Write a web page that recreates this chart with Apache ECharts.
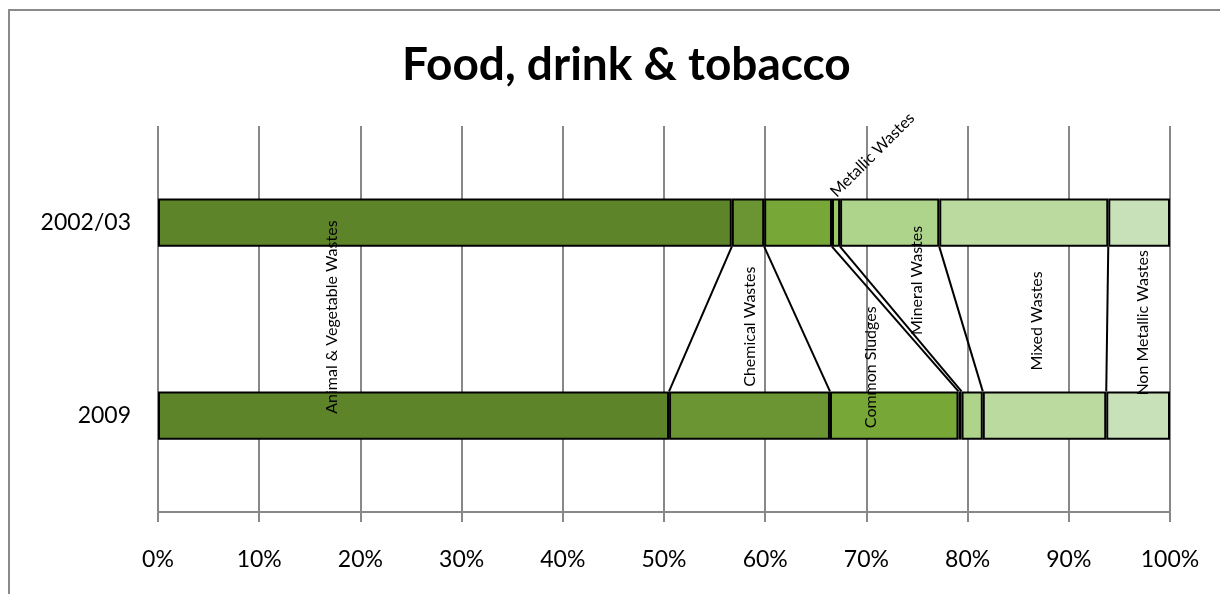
<!DOCTYPE html>
<html>
<head>
<meta charset="utf-8">
<script src="https://cdn.jsdelivr.net/npm/echarts@6/dist/echarts.min.js"></script>
<style>
  html, body { margin: 0; padding: 0; background: #fff; overflow: hidden; }
  #chart { width: 1220px; height: 594px; }
</style>
</head>
<body>
<div id="chart"></div>
<script>
// Waste composition by type, share of total (%)
const categories = ['2002/03', '2009'];
const wasteTypes = [
  'Animal & Vegetable Wastes',
  'Chemical Wastes',
  'Common Sludges',
  'Metallic Wastes',
  'Mineral Wastes',
  'Mixed Wastes',
  'Non Metallic Wastes'
];
const share2002 = [56.7, 3.2, 6.7, 0.8, 9.8, 16.7, 6.1];
const share2009 = [50.5, 15.9, 12.7, 0.3, 2.1, 12.2, 6.3];
const percentTicks = [0, 10, 20, 30, 40, 50, 60, 70, 80, 90, 100];

const palette = ['#5E842A', '#6B9533', '#77A736', '#9CC965', '#AED38A', '#BBDA9F', '#C8E1B8'];
const FONT = 'Lato, "Open Sans", sans-serif';

// running totals give the boundaries joined by the series lines
function cumulative(arr) {
  const out = [];
  let s = 0;
  for (let i = 0; i < arr.length - 1; i++) { s += arr[i]; out.push(+s.toFixed(2)); }
  return out;
}
const bound2002 = cumulative(share2002);
const bound2009 = cumulative(share2009);
const connectorData = bound2002.map((v, i) => [v, 0, bound2009[i]]);

// where each type name sits: x in axis percent, y as a fraction of the way
// from the first category centre to the second, and text rotation
const nameSpots = [
  { x: 17.2, t: 0.49, rot: 90 },
  { x: 58.5, t: 0.54, rot: 90 },
  { x: 70.4, t: 0.75, rot: 90 },
  { x: 70.6, t: -0.35, rot: 45 },
  { x: 75.0, t: 0.30, rot: 90 },
  { x: 86.8, t: 0.51, rot: 90 },
  { x: 97.3, t: 0.52, rot: 90 }
];
const nameData = wasteTypes.map((n, i) => [nameSpots[i].x, 0, i]);

const barWidthRatio = 0.25;

const barSeries = wasteTypes.map((name, i) => ({
  name: name,
  type: 'bar',
  stack: 'total',
  barWidth: '25%',
  data: [share2002[i], share2009[i]],
  itemStyle: { color: palette[i], borderColor: '#000', borderWidth: 2 },
  emphasis: { disabled: true },
  z: 3
}));

const connectorSeries = {
  type: 'custom',
  name: 'series lines',
  data: connectorData,
  encode: { x: 0, y: 1 },
  z: 4,
  silent: true,
  renderItem: function (params, api) {
    const top = api.coord([api.value(0), 0]);
    const bottom = api.coord([api.value(2), 1]);
    const half = (bottom[1] - top[1]) * barWidthRatio / 2;
    return {
      type: 'line',
      shape: { x1: top[0], y1: top[1] + half, x2: bottom[0], y2: bottom[1] - half },
      style: { stroke: '#000', lineWidth: 2 }
    };
  }
};

const nameSeries = {
  type: 'custom',
  name: 'type names',
  data: nameData,
  encode: { x: 0, y: 1 },
  z: 6,
  silent: true,
  renderItem: function (params, api) {
    const idx = api.value(2);
    const spot = nameSpots[idx];
    const a = api.coord([spot.x, 0]);
    const b = api.coord([spot.x, 1]);
    const y = a[1] + (b[1] - a[1]) * spot.t;
    return {
      type: 'text',
      x: a[0],
      y: y,
      rotation: spot.rot * Math.PI / 180,
      style: {
        text: wasteTypes[idx],
        fill: '#000',
        font: '16px ' + FONT,
        align: 'center',
        verticalAlign: 'middle'
      }
    };
  }
};

const chart = echarts.init(document.getElementById('chart'), null, { renderer: 'canvas' });
chart.setOption({
  animation: false,
  backgroundColor: '#fff',
  title: {
    text: 'Food, drink & tobacco',
    left: 397,
    top: 37,
    textStyle: { fontFamily: FONT, fontSize: 46, fontWeight: 'bold', color: '#000' }
  },
  graphic: [{
    // chart-area frame: only the left and top edges fall inside the page
    type: 'polyline',
    shape: { points: [[9, 700], [9, 10], [1300, 10]] },
    style: { fill: 'none', stroke: '#8a8a8a', lineWidth: 2 },
    silent: true,
    z: 0
  }],
  grid: { left: 158, right: 50, top: 126, bottom: 82, containLabel: false },
  xAxis: {
    type: 'value',
    min: percentTicks[0],
    max: percentTicks[percentTicks.length - 1],
    interval: percentTicks[1] - percentTicks[0],
    axisLine: { show: true, lineStyle: { color: '#888', width: 2 } },
    axisTick: { show: true, length: 10, lineStyle: { color: '#888', width: 2 } },
    axisLabel: { formatter: '{value}%', fontFamily: FONT, fontSize: 23, color: '#000', margin: 36 },
    splitLine: { show: true, lineStyle: { color: '#888', width: 2 } }
  },
  yAxis: {
    type: 'category',
    inverse: true,
    data: categories,
    axisLine: { show: false },
    axisTick: { show: false },
    axisLabel: { fontFamily: FONT, fontSize: 23, color: '#000', margin: 27 },
    splitLine: { show: false }
  },
  series: barSeries.concat([connectorSeries, nameSeries])
});
</script>
</body>
</html>
